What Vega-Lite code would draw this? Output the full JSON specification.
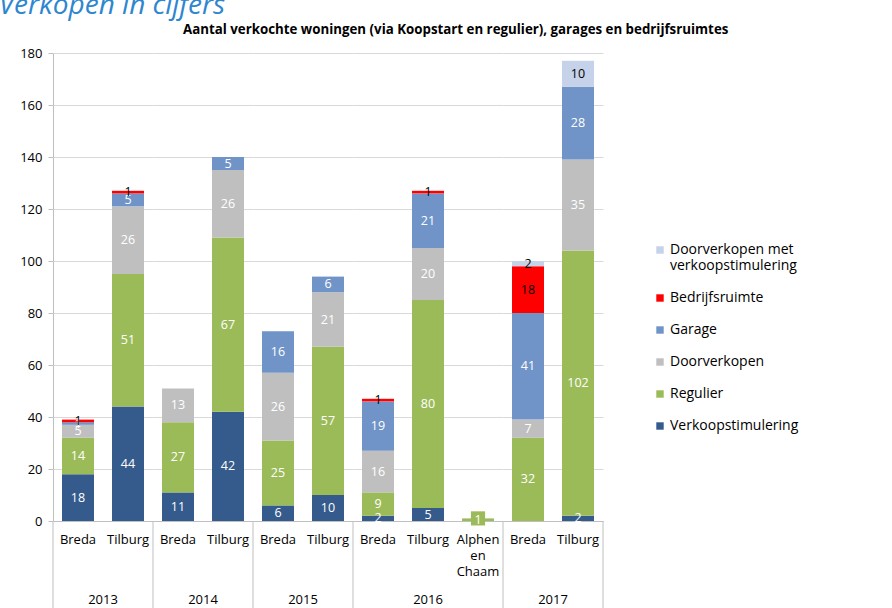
{
  "$schema": "https://vega.github.io/schema/vega-lite/v6.json",
  "background": "white",
  "padding": {"left": -2, "top": -9, "right": 5, "bottom": 0},
  "title": {"text": "Verkopen in cijfers", "anchor": "start", "frame": "bounds", "fontSize": 28, "fontStyle": "italic", "fontWeight": "normal", "color": "#2E86CF", "font": "Open Sans", "dx": -21, "offset": 3},
  "data": {"values": [
    {"year": "2013", "city": "Breda", "cat": "Verkoopstimulering", "value": 18},
    {"year": "2013", "city": "Breda", "cat": "Regulier", "value": 14},
    {"year": "2013", "city": "Breda", "cat": "Doorverkopen", "value": 5},
    {"year": "2013", "city": "Breda", "cat": "Garage", "value": 1},
    {"year": "2013", "city": "Breda", "cat": "Bedrijfsruimte", "value": 1},
    {"year": "2013", "city": "Tilburg", "cat": "Verkoopstimulering", "value": 44},
    {"year": "2013", "city": "Tilburg", "cat": "Regulier", "value": 51},
    {"year": "2013", "city": "Tilburg", "cat": "Doorverkopen", "value": 26},
    {"year": "2013", "city": "Tilburg", "cat": "Garage", "value": 5},
    {"year": "2013", "city": "Tilburg", "cat": "Bedrijfsruimte", "value": 1},
    {"year": "2014", "city": "Breda", "cat": "Verkoopstimulering", "value": 11},
    {"year": "2014", "city": "Breda", "cat": "Regulier", "value": 27},
    {"year": "2014", "city": "Breda", "cat": "Doorverkopen", "value": 13},
    {"year": "2014", "city": "Tilburg", "cat": "Verkoopstimulering", "value": 42},
    {"year": "2014", "city": "Tilburg", "cat": "Regulier", "value": 67},
    {"year": "2014", "city": "Tilburg", "cat": "Doorverkopen", "value": 26},
    {"year": "2014", "city": "Tilburg", "cat": "Garage", "value": 5},
    {"year": "2015", "city": "Breda", "cat": "Verkoopstimulering", "value": 6},
    {"year": "2015", "city": "Breda", "cat": "Regulier", "value": 25},
    {"year": "2015", "city": "Breda", "cat": "Doorverkopen", "value": 26},
    {"year": "2015", "city": "Breda", "cat": "Garage", "value": 16},
    {"year": "2015", "city": "Tilburg", "cat": "Verkoopstimulering", "value": 10},
    {"year": "2015", "city": "Tilburg", "cat": "Regulier", "value": 57},
    {"year": "2015", "city": "Tilburg", "cat": "Doorverkopen", "value": 21},
    {"year": "2015", "city": "Tilburg", "cat": "Garage", "value": 6},
    {"year": "2016", "city": "Breda", "cat": "Verkoopstimulering", "value": 2},
    {"year": "2016", "city": "Breda", "cat": "Regulier", "value": 9},
    {"year": "2016", "city": "Breda", "cat": "Doorverkopen", "value": 16},
    {"year": "2016", "city": "Breda", "cat": "Garage", "value": 19},
    {"year": "2016", "city": "Breda", "cat": "Bedrijfsruimte", "value": 1},
    {"year": "2016", "city": "Tilburg", "cat": "Verkoopstimulering", "value": 5},
    {"year": "2016", "city": "Tilburg", "cat": "Regulier", "value": 80},
    {"year": "2016", "city": "Tilburg", "cat": "Doorverkopen", "value": 20},
    {"year": "2016", "city": "Tilburg", "cat": "Garage", "value": 21},
    {"year": "2016", "city": "Tilburg", "cat": "Bedrijfsruimte", "value": 1},
    {"year": "2016", "city": "Alphen en Chaam", "cat": "Regulier", "value": 1},
    {"year": "2017", "city": "Breda", "cat": "Regulier", "value": 32},
    {"year": "2017", "city": "Breda", "cat": "Doorverkopen", "value": 7},
    {"year": "2017", "city": "Breda", "cat": "Garage", "value": 41},
    {"year": "2017", "city": "Breda", "cat": "Bedrijfsruimte", "value": 18},
    {"year": "2017", "city": "Breda", "cat": "Doorverkopen met verkoopstimulering", "value": 2},
    {"year": "2017", "city": "Tilburg", "cat": "Verkoopstimulering", "value": 2},
    {"year": "2017", "city": "Tilburg", "cat": "Regulier", "value": 102},
    {"year": "2017", "city": "Tilburg", "cat": "Doorverkopen", "value": 35},
    {"year": "2017", "city": "Tilburg", "cat": "Garage", "value": 28},
    {"year": "2017", "city": "Tilburg", "cat": "Doorverkopen met verkoopstimulering", "value": 10}
  ]},
  "transform": [
    {"calculate": "indexof(['Verkoopstimulering','Regulier','Doorverkopen','Garage','Bedrijfsruimte','Doorverkopen met verkoopstimulering'], datum.cat)", "as": "ord"}
  ],
  "vconcat": [
    {
      "title": {"text": "Aantal verkochte woningen (via Koopstart en regulier), garages  en bedrijfsruimtes", "anchor": "start", "frame": "group", "dx": 130, "fontSize": 13.3, "fontWeight": "bold", "font": "Open Sans", "color": "black", "offset": 11},
      "facet": {"column": {"field": "year", "type": "nominal", "header": {"title": null, "labelOrient": "bottom", "labelPadding": 73, "labelFontSize": 13, "labelFont": "Open Sans", "labelColor": "black"}}},
      "spacing": 0,
      "bounds": "flush",
      "resolve": {"scale": {"x": "independent"}},
      "spec": {
        "width": {"step": 50},
        "height": 468,
        "layer": [
          {
            "mark": {"type": "bar", "width": {"band": 0.64}},
            "encoding": {
              "x": {"field": "city", "type": "nominal", "sort": ["Breda", "Tilburg", "Alphen en Chaam"], "scale": {"paddingInner": 0, "paddingOuter": 0},
                "axis": {"title": null, "labelAngle": 0, "ticks": false, "domainColor": "#BFBFBF", "labelFontSize": 13, "labelFont": "Open Sans", "labelColor": "black", "labelPadding": 12, "labelLineHeight": 16, "labelExpr": "split(datum.label, ' ')"}},
              "y": {"field": "value", "type": "quantitative", "stack": "zero", "scale": {"domain": [0, 180]},
                "axis": {"title": null, "values": [0, 20, 40, 60, 80, 100, 120, 140, 160, 180], "gridColor": "#D9D9D9", "domainColor": "#BFBFBF", "tickColor": "#BFBFBF", "tickSize": 5, "labelFontSize": 13, "labelFont": "Open Sans", "labelColor": "black", "labelPadding": 6}},
              "color": {"field": "cat", "type": "nominal",
                "scale": {"domain": ["Doorverkopen met verkoopstimulering", "Bedrijfsruimte", "Garage", "Doorverkopen", "Regulier", "Verkoopstimulering"],
                  "range": ["#C5D2E9", "#FF0000", "#7094C8", "#BFBFBF", "#9BBB59", "#355A8C"]},
                "legend": {"title": null, "orient": "none", "legendX": 600, "legendY": 190, "symbolType": "square", "symbolSize": 55, "symbolStrokeWidth": 0, "labelOffset": 3, "labelFontSize": 14, "labelFont": "Open Sans", "labelColor": "black", "rowPadding": 18, "labelLimit": 300, "labelLineHeight": 16,
                  "labelExpr": "datum.label == 'Doorverkopen met verkoopstimulering' ? ['Doorverkopen met', 'verkoopstimulering'] : datum.label"}},
              "order": {"field": "ord", "type": "quantitative"}
            }
          },
          {
            "transform": [{"filter": "datum.city == 'Alphen en Chaam'"}],
            "mark": {"type": "square", "filled": true, "opacity": 1, "size": 200, "color": "#9BBB59"},
            "encoding": {
              "x": {"field": "city", "type": "nominal", "sort": ["Breda", "Tilburg", "Alphen en Chaam"]},
              "y": {"field": "value", "type": "quantitative", "scale": {"domain": [0, 180]}}
            }
          },
          {
            "mark": {"type": "text", "fontSize": 12.5, "font": "Open Sans", "align": "center", "baseline": "middle"},
            "encoding": {
              "x": {"field": "city", "type": "nominal", "sort": ["Breda", "Tilburg", "Alphen en Chaam"]},
              "y": {"field": "value", "type": "quantitative", "stack": "zero", "bandPosition": 0.5, "scale": {"domain": [0, 180]}},
              "detail": {"field": "cat", "type": "nominal"},
              "order": {"field": "ord", "type": "quantitative"},
              "text": {"field": "value", "type": "quantitative"},
              "color": {"condition": {"test": "datum.cat === 'Bedrijfsruimte' || datum.cat === 'Doorverkopen met verkoopstimulering'", "value": "black"}, "value": "white"}
            }
          },
          {
            "transform": [{"filter": "datum.city == 'Breda' && datum.cat == 'Regulier'"}],
            "mark": {"type": "rule", "color": "#BFBFBF", "strokeWidth": 1},
            "encoding": {
              "x": {"field": "city", "type": "nominal", "sort": ["Breda", "Tilburg", "Alphen en Chaam"], "bandPosition": 0},
              "y": {"datum": 0, "type": "quantitative", "scale": {"domain": [0, 180]}},
              "y2": {"datum": -40}
            }
          },
          {
            "transform": [{"filter": "datum.year == '2017' && datum.city == 'Tilburg' && datum.cat == 'Regulier'"}],
            "mark": {"type": "rule", "color": "#BFBFBF", "strokeWidth": 1},
            "encoding": {
              "x": {"field": "city", "type": "nominal", "sort": ["Breda", "Tilburg", "Alphen en Chaam"], "bandPosition": 1},
              "y": {"datum": 0, "type": "quantitative", "scale": {"domain": [0, 180]}},
              "y2": {"datum": -40}
            }
          }
        ]
      }
    }
  ],
  "config": {
    "view": {"stroke": null},
    "font": "Open Sans"
  }
}
